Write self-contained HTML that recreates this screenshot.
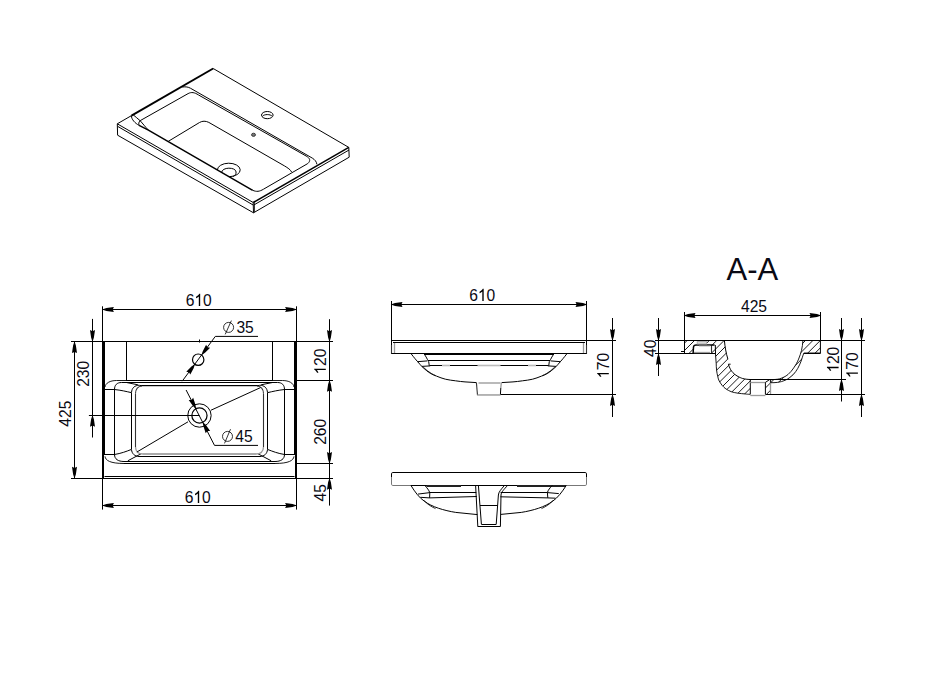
<!DOCTYPE html>
<html><head><meta charset="utf-8"><title>Sink drawing</title>
<style>
html,body{margin:0;padding:0;background:#fff;}
body{width:951px;height:674px;overflow:hidden;}
svg{display:block;}
.l{stroke:#000;stroke-width:1;fill:none;stroke-linecap:butt;}
.m{stroke:#000;stroke-width:1.5;fill:none;}
.k{stroke:#000;stroke-width:1.9;fill:none;}
.t{stroke:#000;stroke-width:2.7;fill:none;}
.g{stroke:#9a9a9a;stroke-width:1.3;fill:none;}
.g3{stroke:#bbb;stroke-width:1.6;fill:none;}
.g2{stroke:#c8c8c8;stroke-width:1;fill:none;}
.d2{stroke:#777;stroke-width:1;fill:none;}
.d{stroke:#333;stroke-width:1.1;fill:none;}
.h{stroke:#000;stroke-width:0.8;fill:none;}
.h2{stroke:#000;stroke-width:0.9;fill:none;}
.a{fill:#000;stroke:none;}
text{font-family:"Liberation Sans",sans-serif;font-size:17px;fill:#0a0a14;}
</style></head><body>
<svg width="951" height="674" viewBox="0 0 951 674">
<rect x="0" y="0" width="951" height="674" fill="#fff"/>

<g id="iso">
<line class="l" x1="213.20" y1="68.50" x2="348.80" y2="147.40"/>
<line class="l" x1="117.30" y1="123.80" x2="253.20" y2="202.50"/>
<line class="l" x1="117.30" y1="123.80" x2="131.50" y2="115.60"/>
<line class="k" x1="131.50" y1="115.60" x2="213.20" y2="68.50"/>
<line class="m" x1="253.20" y1="202.50" x2="348.80" y2="147.40"/>
<line class="l" x1="117.30" y1="123.80" x2="117.60" y2="135.20"/>
<line class="l" x1="253.20" y1="202.50" x2="253.50" y2="212.80"/>
<line class="l" x1="348.80" y1="147.40" x2="349.20" y2="157.20"/>
<line class="h" x1="254.40" y1="202.20" x2="254.60" y2="212.20"/>
<line class="l" x1="117.60" y1="135.20" x2="253.50" y2="212.80"/>
<line class="l" x1="253.50" y1="212.80" x2="349.20" y2="157.20"/>
<line class="l" x1="117.90" y1="126.50" x2="253.30" y2="205.10"/>
<line class="l" x1="254.00" y1="204.90" x2="349.00" y2="150.00"/>
<path class="l" d="M182.3,87.0 C186,86.6 188,86.9 190.6,88.3 L312.3,158.1 C315,159.8 316.4,161.5 316.9,164.3"/>
<path class="l" d="M140.1,120.7 L188.1,93.6 C191.5,91.8 194.5,92.4 198.4,94.9 L306.1,156.0 C310,158.2 311,160.6 307.7,163.6 L263.5,189.2 C259.5,191.6 256.5,192.0 252.7,190.3"/>
<path class="m" d="M252.7,190.3 L148.4,130.1 L139.1,125.4"/>
<path class="l" d="M139.1,125.4 C135,123.2 131.5,119.5 131.3,115.6"/>
<path class="l" d="M133.2,114.8 C135.5,117 138,118.6 140.1,120.7 C143,123.8 145,126.6 148.4,130.1"/>
<path class="l" d="M140.1,120.7 C138.6,122.2 138.4,124 139.3,125.4"/>
<path class="l" d="M168.2,141.4 L199.5,122.5 C202.5,120.8 205.5,120.8 208.8,122.4 L284.3,165.8 C288,168 290.4,169.6 291.6,172.0"/>
<ellipse class="l" cx="267.3" cy="115.1" rx="5.8" ry="3.6"/>
<path class="l" d="M262.5,116.3 C264,114.0 270.6,114.0 272.1,116.3"/>
<ellipse cx="253.5" cy="134.8" rx="2.0" ry="1.6" fill="#777" stroke="#222" stroke-width="0.8"/>
<path class="l" d="M217.4,170 A11.4,6.75 0 1 1 229.4,176.7"/>
<path class="l" d="M221.6,172.6 C221.8,166.8 235.8,166.8 236.1,172.0 C236.2,174 235,175.6 233.0,176.4"/>
</g>
<g id="top">
<rect x="102" y="341" width="3" height="114" fill="#000"/><rect x="102" y="455" width="2" height="24" fill="#000"/>
<rect x="294" y="341" width="3" height="114" fill="#000"/><rect x="295" y="455" width="2" height="24" fill="#000"/>
<line class="l" x1="71.00" y1="341.50" x2="333.00" y2="341.50"/>
<line class="l" x1="71.00" y1="478.50" x2="333.00" y2="478.50"/>
<line class="l" x1="104.50" y1="476.50" x2="294.50" y2="476.50"/>
<line class="l" x1="126.50" y1="341.50" x2="126.50" y2="380.50"/>
<line class="l" x1="272.50" y1="341.50" x2="272.50" y2="380.50"/>
<line class="l" x1="199.50" y1="339.50" x2="199.50" y2="342.50"/>
<path class="h2" d="M105,387.0 C105.6,383 110,380.6 116.4,380.5 L126.4,380.5"/>
<path class="h2" d="M294,387.0 C293.4,383 289,380.6 282.6,380.5 L272.6,380.5"/>
<line class="l" x1="126.00" y1="380.50" x2="273.00" y2="380.50"/>
<line class="l" x1="297.00" y1="380.50" x2="333.00" y2="380.50"/>
<path class="h2" d="M105,456.4 C105.6,460.5 110,463.4 124,463.5 M275,463.5 C289,463.4 293.4,460.5 294,456.4"/>
<line class="l" x1="124.00" y1="463.50" x2="275.00" y2="463.50"/>
<line class="l" x1="297.00" y1="463.50" x2="333.00" y2="463.50"/>
<path class="l" d="M114.5,389.5 C114.5,385 117,382.5 121.5,382.5 M277.5,382.5 C282,382.5 284.5,385 284.5,389.5 M284.5,454.5 C284.5,459 281,461.5 275,461.5 M124,461.5 C118,461.5 114.5,459 114.5,454.5"/>
<line class="l" x1="121.50" y1="382.50" x2="277.50" y2="382.50"/>
<line class="l" x1="124.00" y1="461.50" x2="275.00" y2="461.50"/>
<line class="l" x1="114.50" y1="389.00" x2="114.50" y2="455.00"/>
<line class="l" x1="284.50" y1="389.00" x2="284.50" y2="455.00"/>
<line class="l" x1="105.00" y1="389.50" x2="114.50" y2="389.50"/>
<line class="l" x1="284.50" y1="389.50" x2="294.00" y2="389.50"/>
<line class="l" x1="105.00" y1="454.50" x2="114.50" y2="454.50"/>
<line class="l" x1="284.50" y1="454.50" x2="294.00" y2="454.50"/>
<path class="l" d="M114.5,389.5 C121,390.2 126,391.4 131.2,392.6"/>
<path class="l" d="M284.5,389.5 C278,390.2 273,391.4 267.8,392.6"/>
<path class="l" d="M114.5,454.5 C121,453.4 126,451.6 131.2,449.5"/>
<path class="l" d="M284.5,454.5 C278,453.4 273,451.6 267.8,449.5"/>
<path class="l" d="M126.5,382.5 L137.9,384.8"/>
<path class="l" d="M272.5,382.5 L261.1,384.8"/>
<path class="l" d="M127.8,460.8 L141,453.8"/>
<path class="l" d="M271.2,460.8 L258,453.8"/>
<line class="l" x1="131.50" y1="392.60" x2="131.50" y2="449.50"/>
<line class="l" x1="267.50" y1="392.60" x2="267.50" y2="449.50"/>
<path class="l" d="M131.5,392.6 C131.8,388 134.5,385.3 139.5,385.2 M259.5,385.2 C264.5,385.3 267.2,388 267.5,392.6 M267.5,449.5 C267.2,453.6 264.3,456.4 260,456.5 M139,456.5 C134.7,456.4 131.8,453.6 131.5,449.5"/>
<line class="l" x1="139.00" y1="456.50" x2="260.00" y2="456.50"/>
<line class="l" x1="139.50" y1="385.50" x2="259.50" y2="385.50"/>
<line class="g2" x1="141.00" y1="386.50" x2="258.00" y2="386.50"/>
<line class="d" x1="135.50" y1="393.50" x2="135.50" y2="447.00"/>
<line class="d" x1="263.50" y1="393.50" x2="263.50" y2="447.00"/>
<path class="d" d="M135.5,393.5 C135.7,389 137.8,386.3 142,386.0 M257,386.0 C261.2,386.3 263.3,389 263.5,393.5"/>
<path class="g" d="M135.5,447 C135.7,451.4 137.8,454 143,454 L256,454 C261.2,454 263.3,451.4 263.5,447"/>
<rect x="143" y="453" width="113" height="2" fill="#aaa"/>
<circle cx="198.2" cy="359.7" r="5.7" fill="none" stroke="#000" stroke-width="1.2"/>
<path class="l" d="M258.0,336.4 L215.3,336.4 L182.2,381.2"/>
<polygon class="a" points="201.41,355.36 205.00,352.85 210.13,347.75 207.41,347.23 206.11,344.78 202.75,351.19"/>
<polygon class="a" points="194.99,364.04 191.40,366.55 186.27,371.65 188.99,372.17 190.29,374.62 193.65,368.21"/>
<circle class="h" cx="228.6" cy="327.4" r="5.0"/>
<line class="h" x1="225.20" y1="334.40" x2="231.40" y2="320.60"/>
<g transform="translate(236.40 333.00) scale(0.920 1)" style="font-size:17.0px"><text x="0.00" y="0" text-anchor="start">35</text></g>
<circle class="l" cx="199.45" cy="415.50" r="11.7"/>
<circle cx="199.45" cy="415.50" r="7.6" fill="none" stroke="#000" stroke-width="1.25"/>
<line class="l" x1="88.90" y1="415.50" x2="199.45" y2="415.50"/>
<line class="l" x1="211.00" y1="410.20" x2="260.50" y2="387.60"/>
<line class="l" x1="188.00" y1="421.80" x2="136.90" y2="452.00"/>
<path class="l" d="M186.1,390.0 L214.5,445.4 L258.0,445.4"/>
<polygon class="a" points="196.12,409.01 195.46,404.68 193.18,397.81 191.50,400.02 188.73,400.10 192.97,405.95"/>
<polygon class="a" points="202.78,421.99 203.44,426.32 205.72,433.19 207.40,430.98 210.17,430.90 205.93,425.05"/>
<circle class="h" cx="227.5" cy="436.4" r="5.0"/>
<line class="h" x1="224.50" y1="443.40" x2="230.50" y2="429.20"/>
<g transform="translate(235.30 442.00) scale(0.920 1)" style="font-size:17.0px"><text x="0.00" y="0" text-anchor="start">45</text></g>
<line class="l" x1="102.50" y1="306.30" x2="102.50" y2="341.60"/>
<line class="l" x1="296.50" y1="306.30" x2="296.50" y2="341.60"/>
<line class="l" x1="102.40" y1="309.50" x2="296.60" y2="309.50"/>
<polygon class="a" points="102.10,309.50 106.43,310.90 113.90,312.00 112.70,309.50 113.90,307.00 106.43,308.10"/>
<polygon class="a" points="296.90,309.50 292.58,308.10 285.10,307.00 286.30,309.50 285.10,312.00 292.58,310.90"/>
<g transform="translate(198.70 306.00) scale(0.920 1)" style="font-size:17.0px"><text x="-14.18" y="0" text-anchor="start">6</text><path class="a" transform="translate(-4.73 0) scale(0.01700)" d="M373,0 L285,0 L285,-560.8 Q253,-530 201.6,-501 Q150,-472 109,-457 L109,-542 Q183,-577 238,-626.5 Q293,-676 316,-722.7 L373,-722.7 Z"/><text x="4.73" y="0" text-anchor="start">0</text></g>
<line class="l" x1="102.50" y1="478.30" x2="102.50" y2="509.60"/>
<line class="l" x1="296.50" y1="478.30" x2="296.50" y2="509.60"/>
<line class="l" x1="102.40" y1="505.50" x2="296.60" y2="505.50"/>
<polygon class="a" points="102.10,505.50 106.43,506.90 113.90,508.00 112.70,505.50 113.90,503.00 106.43,504.10"/>
<polygon class="a" points="296.90,505.50 292.58,504.10 285.10,503.00 286.30,505.50 285.10,508.00 292.58,506.90"/>
<g transform="translate(197.70 503.00) scale(0.920 1)" style="font-size:17.0px"><text x="-14.18" y="0" text-anchor="start">6</text><path class="a" transform="translate(-4.73 0) scale(0.01700)" d="M373,0 L285,0 L285,-560.8 Q253,-530 201.6,-501 Q150,-472 109,-457 L109,-542 Q183,-577 238,-626.5 Q293,-676 316,-722.7 L373,-722.7 Z"/><text x="4.73" y="0" text-anchor="start">0</text></g>
<line class="l" x1="74.50" y1="341.60" x2="74.50" y2="478.30"/>
<polygon class="a" points="74.50,341.30 73.10,345.62 72.00,353.10 74.50,351.90 77.00,353.10 75.90,345.62"/>
<polygon class="a" points="74.50,478.60 75.90,474.28 77.00,466.80 74.50,468.00 72.00,466.80 73.10,474.28"/>
<g transform="translate(70.70 414.40) rotate(-90) scale(0.920 1)" style="font-size:16.1px"><text x="-13.43" y="0" text-anchor="start">425</text></g>
<line class="l" x1="92.50" y1="318.90" x2="92.50" y2="437.50"/>
<polygon class="a" points="92.50,341.90 93.90,337.58 95.00,330.10 92.50,331.30 90.00,330.10 91.10,337.58"/>
<polygon class="a" points="92.50,415.00 91.10,419.32 90.00,426.80 92.50,425.60 95.00,426.80 93.90,419.32"/>
<g transform="translate(89.40 374.50) rotate(-90) scale(0.920 1)" style="font-size:16.1px"><text x="-13.43" y="0" text-anchor="start">230</text></g>
<line class="l" x1="329.50" y1="319.20" x2="329.50" y2="505.60"/>
<polygon class="a" points="329.50,341.90 330.90,337.58 332.00,330.10 329.50,331.30 327.00,330.10 328.10,337.58"/>
<polygon class="a" points="329.50,380.00 328.10,384.32 327.00,391.80 329.50,390.60 332.00,391.80 330.90,384.32"/>
<polygon class="a" points="329.50,463.80 330.90,459.48 332.00,452.00 329.50,453.20 327.00,452.00 328.10,459.48"/>
<polygon class="a" points="329.50,478.00 328.10,482.32 327.00,489.80 329.50,488.60 332.00,489.80 330.90,482.32"/>
<g transform="translate(325.80 361.90) rotate(-90) scale(0.920 1)" style="font-size:16.1px"><path class="a" transform="translate(-13.43 0) scale(0.01610)" d="M373,0 L285,0 L285,-560.8 Q253,-530 201.6,-501 Q150,-472 109,-457 L109,-542 Q183,-577 238,-626.5 Q293,-676 316,-722.7 L373,-722.7 Z"/><text x="-4.48" y="0" text-anchor="start">20</text></g>
<g transform="translate(325.80 432.50) rotate(-90) scale(0.920 1)" style="font-size:16.1px"><text x="-13.43" y="0" text-anchor="start">260</text></g>
<g transform="translate(325.80 493.30) rotate(-90) scale(0.920 1)" style="font-size:16.1px"><text x="-8.95" y="0" text-anchor="start">45</text></g>
</g>
<g id="front">
<line class="l" x1="391.50" y1="301.00" x2="391.50" y2="345.00"/>
<line class="l" x1="586.50" y1="301.00" x2="586.50" y2="345.00"/>
<line class="d" x1="391.50" y1="345.00" x2="391.50" y2="354.00"/>
<line class="d" x1="586.50" y1="345.00" x2="586.50" y2="354.00"/>
<line class="l" x1="391.00" y1="304.50" x2="587.00" y2="304.50"/>
<polygon class="a" points="390.70,304.50 395.02,305.90 402.50,307.00 401.30,304.50 402.50,302.00 395.02,303.10"/>
<polygon class="a" points="587.30,304.50 582.98,303.10 575.50,302.00 576.70,304.50 575.50,307.00 582.98,305.90"/>
<g transform="translate(482.20 301.00) scale(0.920 1)" style="font-size:17.0px"><text x="-14.18" y="0" text-anchor="start">6</text><path class="a" transform="translate(-4.73 0) scale(0.01700)" d="M373,0 L285,0 L285,-560.8 Q253,-530 201.6,-501 Q150,-472 109,-457 L109,-542 Q183,-577 238,-626.5 Q293,-676 316,-722.7 L373,-722.7 Z"/><text x="4.73" y="0" text-anchor="start">0</text></g>
<line class="l" x1="391.00" y1="340.50" x2="616.00" y2="340.50"/>
<line class="l" x1="393.00" y1="342.50" x2="585.00" y2="342.50"/>
<line class="l" x1="391.50" y1="353.50" x2="586.50" y2="353.50"/>
<line class="l" x1="424.00" y1="354.50" x2="554.00" y2="354.50"/>
<line class="g" x1="394.50" y1="343.00" x2="394.50" y2="353.00"/>
<line class="g" x1="583.50" y1="343.00" x2="583.50" y2="353.00"/>
<path class="l" d="M411.3,354 C414,357.5 415.6,359.4 417.6,361.6 C419.4,363.6 420.4,365 422,366.6 C425,369.4 427.5,371.5 430.2,373.2 C432.5,374.6 434.5,375.4 436.5,376.1 C439.5,377.4 442.5,378.4 445.4,379.2 C449,380 452,380.4 455.5,380.8 C459,381.3 462,381.7 465,381.9 L476.4,382.6"/>
<g transform="translate(978 0) scale(-1 1)"><path class="l" d="M411.3,354 C414,357.5 415.6,359.4 417.6,361.6 C419.4,363.6 420.4,365 422,366.6 C425,369.4 427.5,371.5 430.2,373.2 C432.5,374.6 434.5,375.4 436.5,376.1 C439.5,377.4 442.5,378.4 445.4,379.2 C449,380 452,380.4 455.5,380.8 C459,381.3 462,381.7 465,381.9 L476.4,382.6"/></g>
<path class="h" d="M423.3,367.2 C426,369.8 428.6,371.8 431.5,373.6 C433,374.4 434,374.9 435.5,375.6"/>
<g transform="translate(978 0) scale(-1 1)"><path class="h" d="M423.3,367.2 C426,369.8 428.6,371.8 431.5,373.6 C433,374.4 434,374.9 435.5,375.6"/></g>
<path class="l" d="M424.6,354.6 C425.8,356.4 426.6,357.8 427.4,359.4 C428,360.4 428.4,361 428.7,361.6 L429.3,366"/>
<g transform="translate(978 0) scale(-1 1)"><path class="l" d="M424.6,354.6 C425.8,356.4 426.6,357.8 427.4,359.4 C428,360.4 428.4,361 428.7,361.6 L429.3,366"/></g>
<line class="l" x1="428.00" y1="360.50" x2="550.00" y2="360.50"/>
<line class="l" x1="430.00" y1="365.50" x2="548.00" y2="365.50"/>
<line class="g3" x1="442.00" y1="365.50" x2="450.00" y2="365.50"/>
<line class="g3" x1="528.00" y1="365.50" x2="536.00" y2="365.50"/>
<line class="l" x1="417.30" y1="361.70" x2="427.40" y2="360.90"/>
<line class="l" x1="560.70" y1="361.70" x2="550.60" y2="360.90"/>
<line class="l" x1="421.70" y1="366.40" x2="430.20" y2="365.90"/>
<line class="l" x1="556.30" y1="366.40" x2="547.80" y2="365.90"/>
<path class="d" d="M476.4,382.6 L477.5,395.2"/>
<path class="g" d="M501.3,382.9 L500.8,388"/>
<path class="l" d="M500.8,388 L500.4,394.5"/>
<rect x="478.5" y="382.2" width="22" height="1.6" fill="#aaa"/>
<rect x="477.5" y="394.1" width="23" height="1.7" fill="#aaa"/>
<line class="g3" x1="477.50" y1="365.50" x2="500.50" y2="365.50"/>
<line class="l" x1="500.50" y1="394.50" x2="616.00" y2="394.50"/>
<line class="l" x1="612.50" y1="318.00" x2="612.50" y2="417.00"/>
<polygon class="a" points="612.50,340.80 613.90,336.48 615.00,329.00 612.50,330.20 610.00,329.00 611.10,336.48"/>
<polygon class="a" points="612.50,394.20 611.10,398.52 610.00,406.00 612.50,404.80 615.00,406.00 613.90,398.52"/>
<g transform="translate(608.80 366.10) rotate(-90) scale(0.920 1)" style="font-size:16.1px"><path class="a" transform="translate(-13.43 0) scale(0.01610)" d="M373,0 L285,0 L285,-560.8 Q253,-530 201.6,-501 Q150,-472 109,-457 L109,-542 Q183,-577 238,-626.5 Q293,-676 316,-722.7 L373,-722.7 Z"/><text x="-4.48" y="0" text-anchor="start">70</text></g>
</g>
<g id="back">
<path class="l" d="M391.5,477 L391.5,473.8 C391.5,473 392,472.5 392.8,472.5 L585.2,472.5 C586,472.5 586.5,473 586.5,473.8 L586.5,477"/>
<path class="d2" d="M391.5,477 L391.5,484.2 C391.5,485 392,485.5 392.8,485.5 L411,485.5 M586.5,477 L586.5,484.2 C586.5,485 586,485.5 585.2,485.5 L566,485.5"/>
<line class="l" x1="411.00" y1="485.50" x2="566.00" y2="485.50"/>
<rect x="426.5" y="485" width="34.5" height="2" fill="#222"/><rect x="517" y="485" width="49" height="2" fill="#222"/>
<path class="l" d="M410.9,485.4 C415,492 419,497.5 424.2,501.1 C432,507 444,510.5 455.7,512.4 L477.4,514.6"/>
<path class="l" d="M566.3,485.4 C562,492 558,497.5 552.8,501.1 C545,507 533,510.5 521.3,512.4 L500.9,514.4"/>
<path class="h" d="M423.5,500 C427,504 431,506.6 435.5,508.6"/>
<path class="h" d="M553.5,500 C550,504 546,506.6 541.5,508.6"/>
<path class="l" d="M424.8,485.4 C427,488 429,490 429.8,492.9 L429.6,497.9"/>
<path class="l" d="M552.2,485.4 C550,488 548,490 547.4,492.6 L547.8,497.9"/>
<line class="l" x1="429.20" y1="492.50" x2="476.30" y2="492.50"/>
<line class="l" x1="500.60" y1="492.50" x2="547.60" y2="492.50"/>
<line class="l" x1="429.60" y1="497.90" x2="476.80" y2="496.50"/>
<line class="l" x1="547.80" y1="497.90" x2="500.40" y2="496.80"/>
<line class="l" x1="417.90" y1="494.10" x2="429.20" y2="492.70"/>
<line class="l" x1="420.40" y1="497.30" x2="429.60" y2="497.90"/>
<line class="l" x1="558.80" y1="493.60" x2="547.60" y2="492.60"/>
<line class="l" x1="555.60" y1="498.20" x2="547.80" y2="497.90"/>
<path class="l" d="M475.6,485.4 L477.8,526.4"/>
<path class="l" d="M478.4,485.4 L481.4,524.3"/>
<path class="l" d="M504.5,485.4 C501,489.5 498.6,492 498.4,495 L496.2,524.4"/>
<path class="l" d="M507.6,485.4 C504,489.5 501.2,492 501.0,495 L500.4,526.4"/>
<line class="l" x1="480.00" y1="505.50" x2="497.60" y2="505.50"/>
<line class="l" x1="481.40" y1="524.50" x2="496.20" y2="524.50"/>
<line class="l" x1="477.60" y1="526.50" x2="500.50" y2="526.50"/>
</g>
<g id="sec">
<text x="752.40" y="280.10" text-anchor="middle" style="font-size:31px">A-A</text>
<g transform="translate(754.00 312.00) scale(0.920 1)" style="font-size:17.0px"><text x="-14.18" y="0" text-anchor="start">425</text></g>
<line class="l" x1="684.50" y1="312.00" x2="684.50" y2="353.00"/>
<line class="l" x1="820.50" y1="312.00" x2="820.50" y2="341.00"/>
<line class="d2" x1="820.50" y1="341.00" x2="820.50" y2="353.50"/>
<line class="l" x1="684.00" y1="315.50" x2="821.00" y2="315.50"/>
<polygon class="a" points="683.70,315.50 688.02,316.90 695.50,318.00 694.30,315.50 695.50,313.00 688.02,314.10"/>
<polygon class="a" points="821.30,315.50 816.98,314.10 809.50,313.00 810.70,315.50 809.50,318.00 816.98,316.90"/>
<line class="l" x1="655.00" y1="340.50" x2="865.00" y2="340.50"/>
<line class="l" x1="655.00" y1="353.50" x2="715.70" y2="353.50"/>
<line class="l" x1="681.00" y1="351.50" x2="684.30" y2="351.50"/>
<line class="l" x1="658.50" y1="318.00" x2="658.50" y2="376.00"/>
<polygon class="a" points="658.50,340.80 659.90,336.48 661.00,329.00 658.50,330.20 656.00,329.00 657.10,336.48"/>
<polygon class="a" points="658.50,353.20 657.10,357.52 656.00,365.00 658.50,363.80 661.00,365.00 659.90,357.52"/>
<g transform="translate(655.50 348.80) rotate(-90) scale(0.920 1)" style="font-size:16.1px"><text x="-8.95" y="0" text-anchor="start">40</text></g>
<clipPath id="cl1"><path d="M684.5,340.5 L696.6,340.5 L696.6,344.6 L694.7,344.9 L693.5,346.4 L693.0,353.5 L684.5,353.5 Z"/></clipPath>
<g clip-path="url(#cl1)">
<line class="h2" x1="592.80" y1="420" x2="692.80" y2="320"/>
<line class="h2" x1="600.20" y1="420" x2="700.20" y2="320"/>
<line class="h2" x1="607.60" y1="420" x2="707.60" y2="320"/>
<line class="h2" x1="615.00" y1="420" x2="715.00" y2="320"/>
<line class="h2" x1="622.40" y1="420" x2="722.40" y2="320"/>
<line class="h2" x1="629.80" y1="420" x2="729.80" y2="320"/>
<line class="h2" x1="637.20" y1="420" x2="737.20" y2="320"/>
<line class="h2" x1="644.60" y1="420" x2="744.60" y2="320"/>
</g>
<clipPath id="cl2"><path d="M707.0,340.5 L715.6,340.5 L715.4,353.5 L711.0,353.5 L711.0,345.0 L707.0,345.0 Z"/></clipPath>
<g clip-path="url(#cl2)">
<line class="h2" x1="615.00" y1="420" x2="715.00" y2="320"/>
<line class="h2" x1="622.40" y1="420" x2="722.40" y2="320"/>
<line class="h2" x1="629.80" y1="420" x2="729.80" y2="320"/>
<line class="h2" x1="637.20" y1="420" x2="737.20" y2="320"/>
<line class="h2" x1="644.60" y1="420" x2="744.60" y2="320"/>
<line class="h2" x1="652.00" y1="420" x2="752.00" y2="320"/>
<line class="h2" x1="659.40" y1="420" x2="759.40" y2="320"/>
</g>
<line class="l" x1="715.30" y1="345.00" x2="715.50" y2="353.00"/>
<line class="d" x1="711.50" y1="345.50" x2="711.50" y2="353.00"/>
<path class="m" d="M693.1,353.5 L693.5,347 C693.7,345.6 694.6,345.0 696.2,345.0 L714.6,345.0"/>
<rect x="697.2" y="341.6" width="9.4" height="2.4" fill="#ddd" stroke="#aaa" stroke-width="0.9"/>
<line class="g" x1="694.00" y1="352.50" x2="710.00" y2="352.50"/>
<line class="g2" x1="699.00" y1="346.20" x2="710.20" y2="346.20"/>
<clipPath id="cl3"><path d="M715.5,340.5 L724.4,340.5 C725,347 726,353 727.9,359.2 L728.4,364.2 C729.3,367 730.3,369.5 731.7,371.2 C733.2,373.2 735,374.8 738,376.5 C740.5,377.8 741.5,378.1 742.3,378.4 C745,379.1 747,379.4 750.3,379.5 L750.3,394.3 C748,394.3 747,394.2 745.6,394 C740,393.5 735,393 731.2,391.7 C727,390 724.3,388 722.3,385.6 C719.5,382 718.4,380 717.8,376.7 C716.6,372 716.3,368 716.2,363.4 L715.4,353 Z"/></clipPath>
<g clip-path="url(#cl3)">
<line class="h2" x1="622.40" y1="420" x2="722.40" y2="320"/>
<line class="h2" x1="629.80" y1="420" x2="729.80" y2="320"/>
<line class="h2" x1="637.20" y1="420" x2="737.20" y2="320"/>
<line class="h2" x1="644.60" y1="420" x2="744.60" y2="320"/>
<line class="h2" x1="652.00" y1="420" x2="752.00" y2="320"/>
<line class="h2" x1="659.40" y1="420" x2="759.40" y2="320"/>
<line class="h2" x1="666.80" y1="420" x2="766.80" y2="320"/>
<line class="h2" x1="674.20" y1="420" x2="774.20" y2="320"/>
<line class="h2" x1="681.60" y1="420" x2="781.60" y2="320"/>
<line class="h2" x1="689.00" y1="420" x2="789.00" y2="320"/>
<line class="h2" x1="696.40" y1="420" x2="796.40" y2="320"/>
<line class="h2" x1="703.80" y1="420" x2="803.80" y2="320"/>
<line class="h2" x1="711.20" y1="420" x2="811.20" y2="320"/>
<line class="h2" x1="718.60" y1="420" x2="818.60" y2="320"/>
<line class="h2" x1="726.00" y1="420" x2="826.00" y2="320"/>
<line class="h2" x1="733.40" y1="420" x2="833.40" y2="320"/>
<line class="h2" x1="740.80" y1="420" x2="840.80" y2="320"/>
</g>
<path class="l" d="M724.4,340.5 C725,347 726,353 727.9,359.2"/>
<path class="l" d="M730.6,364.2 L728.4,364.2 C729.3,367 730.3,369.5 731.7,371.2 C733.2,373.2 735,374.8 738,376.5 C740.5,377.8 741.5,378.1 742.3,378.4 C745,379.1 747,379.4 750.3,379.5 L750.3,394.3"/>
<path class="h2" d="M750.3,394.3 C748,394.3 747,394.2 745.6,394 C740,393.5 735,393 731.2,391.7 C727,390 724.3,388 722.3,385.6 C719.5,382 718.4,380 717.8,376.7 C716.6,372 716.3,368 716.2,363.4 L715.4,353"/>
<line class="g" x1="750.30" y1="382.50" x2="765.40" y2="382.50"/>
<line class="g" x1="750.30" y1="395.50" x2="765.40" y2="395.50"/>
<clipPath id="cl4"><path d="M765.4,382.4 L769.6,379.6 L770.2,379.6 L770.2,394.2 L765.4,394.2 Z"/></clipPath>
<g clip-path="url(#cl4)">
<line class="h2" x1="711.20" y1="420" x2="811.20" y2="320"/>
<line class="h2" x1="718.60" y1="420" x2="818.60" y2="320"/>
<line class="h2" x1="726.00" y1="420" x2="826.00" y2="320"/>
<line class="h2" x1="733.40" y1="420" x2="833.40" y2="320"/>
<line class="h2" x1="740.80" y1="420" x2="840.80" y2="320"/>
<line class="h2" x1="748.20" y1="420" x2="848.20" y2="320"/>
<line class="h2" x1="755.60" y1="420" x2="855.60" y2="320"/>
<line class="h2" x1="763.00" y1="420" x2="863.00" y2="320"/>
</g>
<path class="l" d="M769.6,379.6 L765.4,382.4 L765.4,394.2"/>
<line class="g" x1="770.50" y1="379.60" x2="770.50" y2="394.20"/>
<line class="l" x1="749.50" y1="379.50" x2="846.00" y2="379.50"/>
<line class="l" x1="765.40" y1="394.50" x2="865.00" y2="394.50"/>
<clipPath id="cl5"><path d="M770.6,379.6 C774,379.6 777,379.4 779.3,378.9 C783,377.8 785.5,376.5 788,374.5 C790.4,372.4 792,370.4 793.8,367.8 C796,364.6 797.4,362 798.6,359.1 C799.8,356 800.8,353.4 801.5,350.4 C802.3,347 802.7,344 802.9,340.5 L820.4,340.5 L820.4,353.0 L803.9,353.0 C803.3,354.4 802.9,355.6 802.4,357.2 C801.6,360 800.7,362.4 799.5,364.9 C798.4,367.4 797.3,369.4 795.7,371.6 C794,374 792.3,375.6 789.9,377.4 C788.3,378.7 786.9,379.5 785.1,380.3 C782.6,381.4 780.3,382 777.4,382.4 C775,382.7 773,382.7 770.6,382.7 Z"/></clipPath>
<g clip-path="url(#cl5)">
<line class="h2" x1="711.20" y1="420" x2="811.20" y2="320"/>
<line class="h2" x1="718.60" y1="420" x2="818.60" y2="320"/>
<line class="h2" x1="726.00" y1="420" x2="826.00" y2="320"/>
<line class="h2" x1="733.40" y1="420" x2="833.40" y2="320"/>
<line class="h2" x1="740.80" y1="420" x2="840.80" y2="320"/>
<line class="h2" x1="748.20" y1="420" x2="848.20" y2="320"/>
<line class="h2" x1="755.60" y1="420" x2="855.60" y2="320"/>
<line class="h2" x1="763.00" y1="420" x2="863.00" y2="320"/>
<line class="h2" x1="770.40" y1="420" x2="870.40" y2="320"/>
</g>
<path class="h2" d="M770.6,379.6 C774,379.6 777,379.4 779.3,378.9 C783,377.8 785.5,376.5 788,374.5 C790.4,372.4 792,370.4 793.8,367.8 C796,364.6 797.4,362 798.6,359.1 C799.8,356 800.8,353.4 801.5,350.4 C802.3,347 802.7,344 802.9,340.5 L820.4,340.5 L820.4,353.0 L803.9,353.0 C803.3,354.4 802.9,355.6 802.4,357.2 C801.6,360 800.7,362.4 799.5,364.9 C798.4,367.4 797.3,369.4 795.7,371.6 C794,374 792.3,375.6 789.9,377.4 C788.3,378.7 786.9,379.5 785.1,380.3 C782.6,381.4 780.3,382 777.4,382.4 C775,382.7 773,382.7 770.6,382.7 Z"/>
<line class="l" x1="803.90" y1="353.50" x2="820.50" y2="353.50"/>
<line class="l" x1="841.50" y1="318.00" x2="841.50" y2="401.50"/>
<line class="l" x1="861.50" y1="318.00" x2="861.50" y2="417.00"/>
<polygon class="a" points="841.50,340.80 842.90,336.48 844.00,329.00 841.50,330.20 839.00,329.00 840.10,336.48"/>
<polygon class="a" points="861.50,340.80 862.90,336.48 864.00,329.00 861.50,330.20 859.00,329.00 860.10,336.48"/>
<polygon class="a" points="841.50,379.20 840.10,383.52 839.00,391.00 841.50,389.80 844.00,391.00 842.90,383.52"/>
<polygon class="a" points="861.50,394.20 860.10,398.52 859.00,406.00 861.50,404.80 864.00,406.00 862.90,398.52"/>
<g transform="translate(838.60 360.00) rotate(-90) scale(0.920 1)" style="font-size:16.1px"><path class="a" transform="translate(-13.43 0) scale(0.01610)" d="M373,0 L285,0 L285,-560.8 Q253,-530 201.6,-501 Q150,-472 109,-457 L109,-542 Q183,-577 238,-626.5 Q293,-676 316,-722.7 L373,-722.7 Z"/><text x="-4.48" y="0" text-anchor="start">20</text></g>
<g transform="translate(857.90 365.70) rotate(-90) scale(0.920 1)" style="font-size:16.1px"><path class="a" transform="translate(-13.43 0) scale(0.01610)" d="M373,0 L285,0 L285,-560.8 Q253,-530 201.6,-501 Q150,-472 109,-457 L109,-542 Q183,-577 238,-626.5 Q293,-676 316,-722.7 L373,-722.7 Z"/><text x="-4.48" y="0" text-anchor="start">70</text></g>
</g>
</svg></body></html>
